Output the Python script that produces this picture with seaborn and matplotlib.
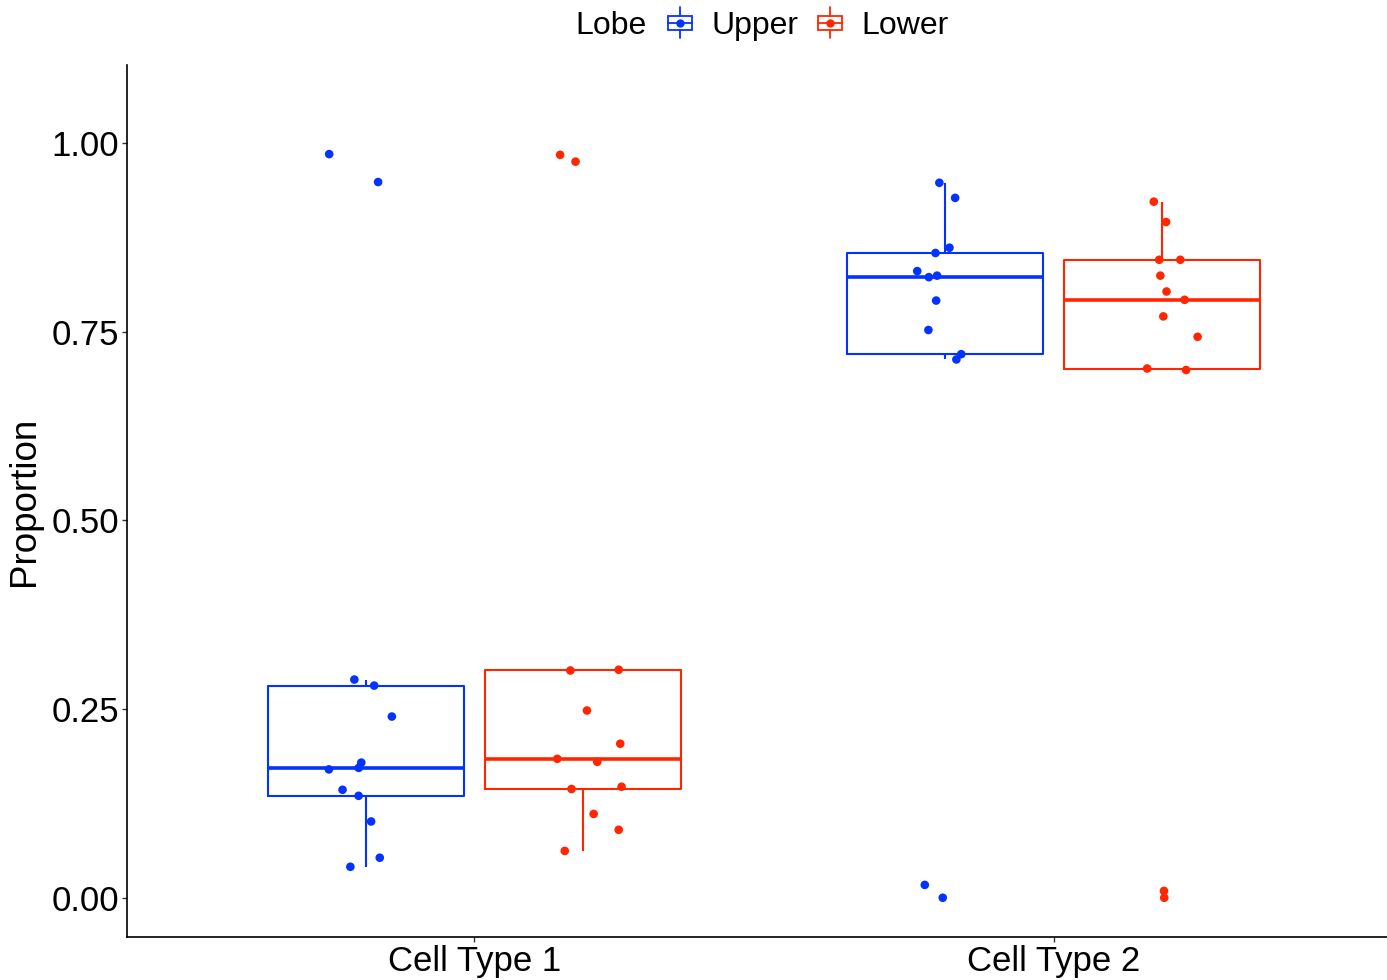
import numpy as np
import pandas as pd
import seaborn as sns
import matplotlib.pyplot as plt
from matplotlib.legend_handler import HandlerBase
from matplotlib.patches import Rectangle
from matplotlib.lines import Line2D

# values
cell_types = ["Cell Type 1", "Cell Type 2"]
lobes = ["Upper", "Lower"]
ct1_upper = [0.985, 0.948, 0.289, 0.281, 0.240, 0.179, 0.172, 0.170, 0.143, 0.135, 0.101, 0.053, 0.041]
ct1_lower = [0.984, 0.975, 0.302, 0.301, 0.248, 0.204, 0.184, 0.180, 0.147, 0.144, 0.111, 0.090, 0.062]
ct2_upper = [0.947, 0.927, 0.861, 0.854, 0.830, 0.824, 0.822, 0.791, 0.752, 0.720, 0.713, 0.017, 0.000]
ct2_lower = [0.922, 0.895, 0.845, 0.845, 0.824, 0.803, 0.792, 0.770, 0.743, 0.701, 0.699, 0.009, 0.000]
colors = {"Upper": "#0433FF", "Lower": "#FF2600"}

rows = []
for ct, lobe, vals in [("Cell Type 1", "Upper", ct1_upper), ("Cell Type 1", "Lower", ct1_lower),
                       ("Cell Type 2", "Upper", ct2_upper), ("Cell Type 2", "Lower", ct2_lower)]:
    for v in vals:
        rows.append({"CellType": ct, "Lobe": lobe, "Proportion": v})
df = pd.DataFrame(rows)

sns.set_style("white")
plt.rcParams['font.family'] = ['Liberation Sans', 'DejaVu Sans']
plt.rcParams['text.color'] = 'black'
plt.rcParams['axes.labelcolor'] = 'black'
plt.rcParams['xtick.color'] = 'black'
plt.rcParams['ytick.color'] = 'black'

fig = plt.figure(figsize=(13.87, 9.8), dpi=100)
ax = fig.add_axes([127 / 1387, 1 - 937 / 980, (1401 - 127) / 1387, (937 - 65) / 980])

sns.boxplot(data=df, x="CellType", y="Proportion", hue="Lobe", order=cell_types, hue_order=lobes,
            palette=colors, fill=False, width=0.75, gap=0.1, showfliers=False, linewidth=1.5,
            medianprops=dict(linewidth=2.6), capprops=dict(linewidth=0), legend=False, ax=ax)
np.random.seed(7)
sns.stripplot(data=df, x="CellType", y="Proportion", hue="Lobe", order=cell_types, hue_order=lobes,
              palette=colors, dodge=True, jitter=0.12, size=6.2, linewidth=0, legend=False,
              zorder=3, ax=ax)

ax.set_xlim(-0.6, 1.6)
ax.set_ylim(-0.052, 1.103)
ax.set_yticks([0, 0.25, 0.5, 0.75, 1.0])
ax.set_yticklabels(["0.00", "0.25", "0.50", "0.75", "1.00"])
ax.set_xlabel("")
ax.set_ylabel("Proportion", fontsize=26.5)
ax.yaxis.set_label_coords(-0.0667, 0.5)
ax.tick_params(axis='both', labelsize=25, length=3.6, width=1, color='#333333', labelcolor='black',
               pad=2, left=True, bottom=True)
for s in ["top", "right"]:
    ax.spines[s].set_visible(False)
for s in ["left", "bottom"]:
    ax.spines[s].set_color("black")
    ax.spines[s].set_linewidth(1.2)


class BoxHandler(HandlerBase):
    def create_artists(self, legend, orig, xd, yd, w, h, fs, trans):
        c = orig.get_color()
        cx = xd + w / 2
        cy = yd + h / 2
        bh = h * 0.6
        rect = Rectangle((xd, cy - bh / 2), w, bh, fill=False, edgecolor=c, lw=1.3, transform=trans)
        med = Line2D([xd, xd + w], [cy, cy], color=c, lw=1.3, transform=trans)
        wu = Line2D([cx, cx], [cy + bh / 2, cy + h * 0.7], color=c, lw=1.3, transform=trans)
        wl = Line2D([cx, cx], [cy - bh / 2, cy - h * 0.7], color=c, lw=1.3, transform=trans)
        dot = Line2D([cx], [cy], marker='o', markersize=5, color=c, lw=0, transform=trans)
        return [rect, med, wu, wl, dot]


handles = [Line2D([], [], color=colors[l]) for l in lobes]
fig.text(575 / 1387, 1 - 26 / 980, "Lobe", fontsize=23, ha='left', va='center', color='black')
leg = fig.legend(handles, lobes, handler_map={Line2D: BoxHandler()}, loc='center left',
                 bbox_to_anchor=(668 / 1387, 1 - 26 / 980), ncol=2, frameon=False, fontsize=23,
                 borderpad=0, borderaxespad=0, handlelength=0.75, handleheight=0.7,
                 handletextpad=0.6, columnspacing=0.62)
for t in leg.get_texts():
    t.set_color('black')

fig.savefig("out.png", dpi=100)
